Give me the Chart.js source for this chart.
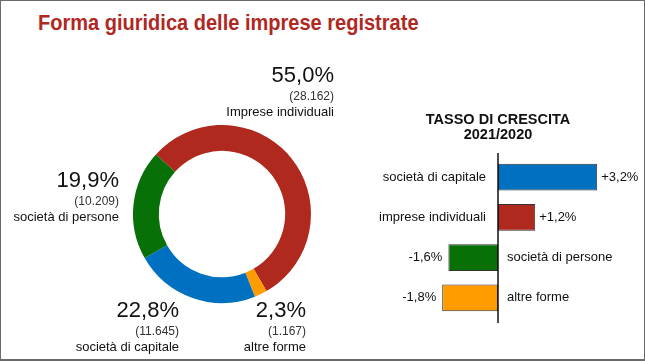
<!DOCTYPE html>
<html>
<head>
<meta charset="utf-8">
<script src="https://cdn.jsdelivr.net/npm/chart.js@4"></script>
<style>
  html, body { margin: 0; padding: 0; background: #fff; }
  #frame {
    position: relative; width: 645px; height: 361px; box-sizing: border-box;
    border: 1px solid #6a6a6a; border-bottom-width: 2px; overflow: hidden;
    font-family: "Liberation Sans", Arial, sans-serif;
  }
  #titolo {
    position: absolute; left: 37px; top: 9px; margin: 0;
    font: bold 22px "Liberation Sans", Arial, sans-serif; line-height: 26px;
    color: #b0281f; white-space: nowrap;
    transform: scaleX(0.91); transform-origin: 0 0;
  }
  #torta { position: absolute; left: 0; top: 0; }
  #barre { position: absolute; left: 360px; top: 100px; }
</style>
</head>
<body>
<div id="frame">
  <h1 id="titolo">Forma giuridica delle imprese registrate</h1>
  <canvas id="torta" width="360" height="361"></canvas>
  <canvas id="barre" width="285" height="240"></canvas>
</div>
<script>
// Dati - composizione per forma giuridica
const categorie = ['Imprese individuali', 'altre forme', 'società di capitale', 'società di persone'];
const percentuali = [55.0, 2.3, 22.8, 19.9];
const imprese = ['28.162', '1.167', '11.645', '10.209'];
const colori = ['#af291f', '#ff9c00', '#0070c0', '#077007'];

// Dati - tasso di crescita 2021/2020
const categorieCrescita = ['società di capitale', 'imprese individuali', 'società di persone', 'altre forme'];
const tassiCrescita = [3.2, 1.2, -1.6, -1.8];
const coloriCrescita = ['#0070c0', '#af291f', '#077007', '#ff9c00'];

const FONT = '"Liberation Sans", Arial, sans-serif';

// posizione delle etichette della torta (bordo destro del testo, centro della percentuale)
const posEtichette = [
  { x: 333, y: 75 },
  { x: 305, y: 310 },
  { x: 178, y: 310 },
  { x: 118, y: 180 }
];

function fmt(v, segno) {
  const s = Math.abs(v).toFixed(1).replace('.', ',');
  if (!segno) return s + '%';
  return (v > 0 ? '+' : '-') + s + '%';
}

const etichetteTorta = {
  id: 'etichetteTorta',
  afterDraw(chart) {
    const ctx = chart.ctx;
    ctx.save();
    ctx.textAlign = 'right';
    ctx.textBaseline = 'middle';
    percentuali.forEach(function(p, i) {
      const pos = posEtichette[i];
      ctx.fillStyle = '#111';
      ctx.font = '22px ' + FONT;
      ctx.fillText(fmt(p, false), pos.x, pos.y);
      ctx.fillStyle = '#333';
      ctx.font = '12px ' + FONT;
      ctx.fillText('(' + imprese[i] + ')', pos.x, pos.y + 21);
      ctx.fillStyle = '#111';
      ctx.font = '13px ' + FONT;
      ctx.fillText(categorie[i], pos.x, pos.y + 36);
    });
    ctx.restore();
  }
};

new Chart(document.getElementById('torta').getContext('2d'), {
  type: 'doughnut',
  data: {
    labels: categorie,
    datasets: [{
      data: percentuali,
      backgroundColor: colori,
      borderWidth: 0
    }]
  },
  options: {
    responsive: false,
    animation: false,
    rotation: -48,
    cutout: '71%',
    layout: { padding: { left: 132, top: 124, right: 50, bottom: 59 } },
    plugins: {
      legend: { display: false },
      tooltip: { enabled: false }
    }
  },
  plugins: [etichetteTorta]
});

const etichetteBarre = {
  id: 'etichetteBarre',
  afterDraw(chart) {
    const ctx = chart.ctx;
    const area = chart.chartArea;
    const zero = chart.scales.x.getPixelForValue(0);
    ctx.save();
    // asse verticale
    ctx.strokeStyle = '#111';
    ctx.lineWidth = 1.5;
    ctx.beginPath();
    ctx.moveTo(zero, area.top - 4);
    ctx.lineTo(zero, area.bottom + 5);
    ctx.stroke();

    // titolo
    ctx.fillStyle = '#111';
    ctx.textAlign = 'center';
    ctx.textBaseline = 'middle';
    ctx.font = 'bold 14.5px ' + FONT;
    ctx.fillText('TASSO DI CRESCITA', zero, 19);
    ctx.fillText('2021/2020', zero, 34);

    ctx.font = '13px ' + FONT;
    chart.getDatasetMeta(0).data.forEach(function(bar, i) {
      const v = tassiCrescita[i];
      if (v >= 0) {
        ctx.textAlign = 'right';
        ctx.fillText(categorieCrescita[i], zero - 12, bar.y);
        ctx.textAlign = 'left';
        ctx.fillText(fmt(v, true), bar.x + 4, bar.y);
      } else {
        ctx.textAlign = 'left';
        ctx.fillText(categorieCrescita[i], zero + 9, bar.y);
        ctx.textAlign = 'right';
        ctx.fillText(fmt(v, true), bar.x - 6, bar.y);
      }
    });
    ctx.restore();
  }
};

new Chart(document.getElementById('barre').getContext('2d'), {
  type: 'bar',
  data: {
    labels: categorieCrescita,
    datasets: [{
      data: tassiCrescita,
      backgroundColor: coloriCrescita,
      borderColor: '#333',
      borderWidth: 1,
      borderSkipped: false,
      categoryPercentage: 1,
      barPercentage: 0.67
    }]
  },
  options: {
    responsive: false,
    animation: false,
    indexAxis: 'y',
    layout: { padding: { left: 59.5, right: 24, top: 56, bottom: 23 } },
    scales: {
      x: { display: false, min: -2.5, max: 4 },
      y: { display: false }
    },
    plugins: {
      legend: { display: false },
      tooltip: { enabled: false }
    }
  },
  plugins: [etichetteBarre]
});
</script>
</body>
</html>
